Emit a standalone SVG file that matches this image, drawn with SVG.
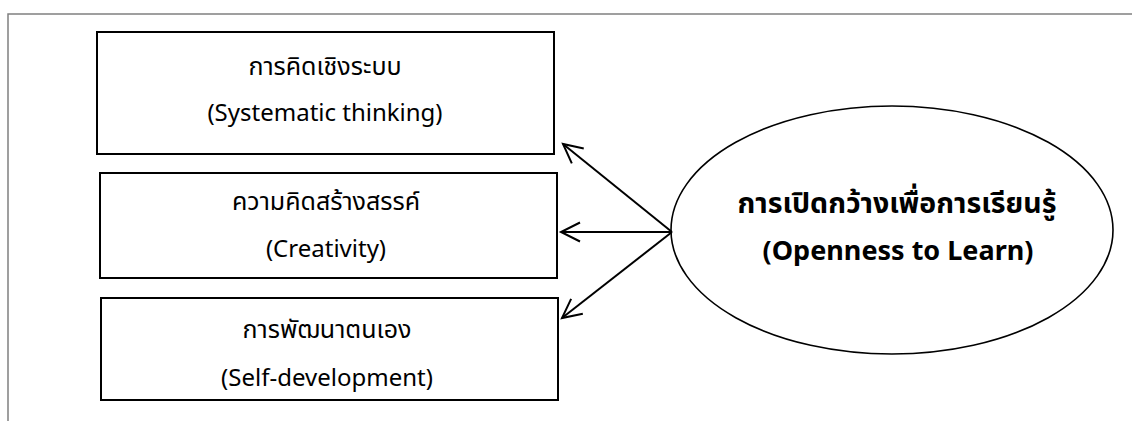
<svg xmlns="http://www.w3.org/2000/svg" width="1132" height="421" viewBox="0 0 1132 421">
<style>
.frame{fill:none;stroke:#808080;stroke-width:1.5}
.box{fill:#fff;stroke:#000;stroke-width:2}
.ell{fill:#fff;stroke:#000;stroke-width:1.6}
.t{font-family:"Noto Sans","Noto Sans Thai","Tahoma",sans-serif;font-size:24px;fill:#000;text-anchor:middle}
.th{font-size:25px}
.b{font-weight:bold;font-size:27px}
.bth{font-size:28.5px}
.conn{stroke:#000;stroke-width:2;fill:none}
</style>
<defs>
<marker id="ah" markerUnits="userSpaceOnUse" markerWidth="26" markerHeight="26" viewBox="-22 -13 26 26" refX="0" refY="0" orient="auto">
<path d="M-19,-9.5 L0,0 L-19,9.5" fill="none" stroke="#000" stroke-width="2" stroke-linejoin="miter"/>
</marker>
</defs>
<rect width="1132" height="421" fill="#fff"/>
<path class="frame" d="M8,421 L8,14 L1132,14"/>
<g id="node-systematic">
<rect class="box" x="97" y="32" width="457" height="122"/>
<text class="t th" x="325" y="75">การคิดเชิงระบบ</text>
<text class="t" x="325" y="121">(Systematic thinking)</text>
</g>
<g id="node-creativity">
<rect class="box" x="100" y="173" width="457" height="105"/>
<text class="t th" x="326" y="210">ความคิดสร้างสรรค์</text>
<text class="t" x="326" y="257">(Creativity)</text>
</g>
<g id="node-selfdev">
<rect class="box" x="101" y="298" width="457" height="102"/>
<text class="t th" x="327" y="338">การพัฒนาตนเอง</text>
<text class="t" x="327" y="386">(Self-development)</text>
</g>
<g id="node-openness">
<ellipse class="ell" cx="892" cy="230" rx="221" ry="124"/>
<text class="t b bth" x="897" y="213">การเปิดกว้างเพื่อการเรียนรู้</text>
<text class="t b" x="898" y="260">(Openness to Learn)</text>
</g>
<g id="connectors">
<line class="conn" x1="672" y1="232" x2="563" y2="144" marker-end="url(#ah)"/>
<line class="conn" x1="672" y1="232" x2="561" y2="232" marker-end="url(#ah)"/>
<line class="conn" x1="672" y1="232" x2="562" y2="318" marker-end="url(#ah)"/>
</g>
</svg>
